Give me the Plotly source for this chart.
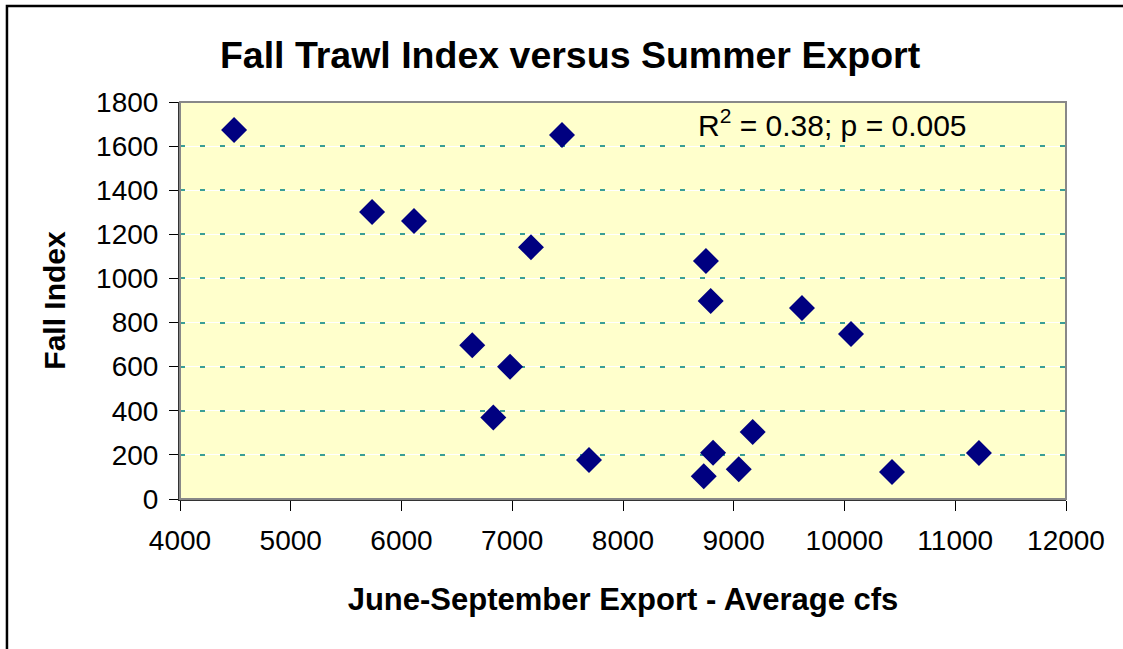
"""
Fall trawl index vs summer export scatter
"""

import plotly.graph_objects as go

# data
export_cfs = [4488, 7449, 5734, 6113, 7169, 8749, 8792, 9616, 10059, 6639,
              6980, 6829, 7693, 9171, 8813, 9045, 8729, 10429, 11214]
fall_index = [1673, 1650, 1301, 1260, 1142, 1079, 898, 866, 748, 697,
              600, 369, 177, 304, 210, 135, 103, 122, 209]

x_ticks = [4000, 5000, 6000, 7000, 8000, 9000, 10000, 11000, 12000]
x_tick_text = [str(v) for v in x_ticks]
y_ticks = [0, 200, 400, 600, 800, 1000, 1200, 1400, 1600, 1800]

FONT = 'Liberation Sans, Arial, sans-serif'

fig = go.Figure()

fig.add_trace(go.Scatter(
    x=export_cfs,
    y=fall_index,
    mode='markers',
    marker=dict(symbol='diamond', size=20, color='#000080',
                line=dict(width=0)),
    showlegend=False,
))

# invisible trace on the overlay axis so its dashed grid gets drawn
fig.add_trace(go.Scatter(
    x=[x_ticks[0]], y=[y_ticks[0]], yaxis='y2', mode='markers',
    marker=dict(opacity=0), showlegend=False, hoverinfo='skip',
))

fig.update_layout(
    width=1123,
    height=649,
    margin=dict(l=180, r=57, t=102, b=150),
    paper_bgcolor='white',
    plot_bgcolor='#FFFFCC',
    font=dict(family=FONT, color='black'),
    title=dict(
        text='<b>Fall Trawl Index versus Summer Export</b>',
        x=0.5076, xanchor='center', y=0.915, yanchor='middle',
        font=dict(size=37.5, family=FONT),
    ),
    xaxis=dict(
        range=[4000, 12000],
        tickvals=x_ticks, ticktext=x_tick_text,
        ticks='outside', ticklen=10, tickwidth=1, tickcolor='black',
        tickfont=dict(size=28), ticklabelstandoff=5,
        showline=True, linecolor='#333333', linewidth=2,
        showgrid=False, zeroline=False,
        title=dict(text='<b>June-September Export - Average cfs</b>',
                   font=dict(size=31), standoff=34),
    ),
    yaxis=dict(
        range=[0, 1800],
        tickvals=y_ticks,
        ticks='outside', ticklen=9, tickwidth=1, tickcolor='black',
        tickfont=dict(size=28), ticklabelstandoff=5,
        showline=True, linecolor='#333333', linewidth=2,
        showgrid=True, gridcolor='white', gridwidth=1,
        zeroline=False,
        title=dict(text='<b>Fall Index</b>', font=dict(size=30), standoff=22),
    ),
    yaxis2=dict(
        range=[0, 1800],
        tickvals=y_ticks,
        overlaying='y',
        showticklabels=False,
        showgrid=True, gridcolor='#3A9E96', gridwidth=1.5,
        griddash='5px,15px',
        zeroline=False, showline=False,
    ),
    annotations=[dict(
        x=9890, y=1705, xref='x', yref='y',
        text='R<sup>2</sup> = 0.38; p = 0.005',
        showarrow=False, font=dict(size=30),
    )],
    shapes=[
        # grey plot-area border
        dict(type='rect', xref='paper', yref='paper', x0=0, y0=0, x1=1, y1=1,
             line=dict(color='#888888', width=2), layer='above'),
        # outer chart frame (only top and left visible)
        dict(type='rect', xref='paper', yref='paper',
             x0=-0.1953, y0=-1.0, x1=2.0, y1=1.2418,
             line=dict(color='black', width=2.5)),
    ],
)

# drop the default body margin so the figure sits at the page corner
fig.write_html("out.html",
               config={'displayModeBar': False},
               post_script="document.body.style.margin='0';")
